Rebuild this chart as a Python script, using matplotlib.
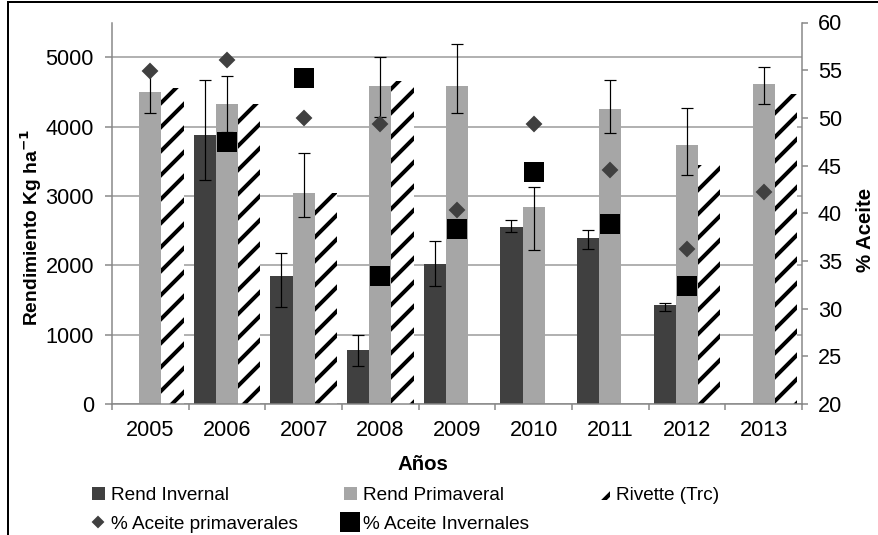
import numpy as np
import matplotlib
matplotlib.use('Agg')
import matplotlib.pyplot as plt
from matplotlib.lines import Line2D
from matplotlib.patches import Patch

plt.rcParams['font.family'] = ['Liberation Sans', 'DejaVu Sans']
plt.rcParams['hatch.linewidth'] = 2.0

nan = np.nan
years = ['2005', '2006', '2007', '2008', '2009', '2010', '2011', '2012', '2013']

# rendimiento (Kg/ha) with error bar ends
rend_inv = [nan, 3873, 1845, 780, 2017, 2545, 2387, 1427, nan]
rend_inv_lo = [nan, 3226, 1394, 550, 1700, 2482, 2233, 1341, nan]
rend_inv_hi = [nan, 4669, 2180, 1000, 2348, 2650, 2506, 1460, nan]
rend_prim = [4496, 4319, 3043, 4578, 4578, 2833, 4247, 3729, 4607]
rend_prim_lo = [4194, 3920, 2698, 4137, 4194, 2219, 3912, 3302, 4329]
rend_prim_hi = [4800, 4722, 3624, 4996, 5187, 3129, 4665, 4272, 4856]
rivette = [4560, 4319, 3043, 4650, nan, nan, nan, 3442, 4473]

# % aceite
aceite_prim = [54.9, 56.1, 50.0, 49.4, 40.3, 49.4, 44.5, 36.2, 42.2]
aceite_inv = [nan, 47.5, 54.2, 33.4, 38.3, 44.3, 38.9, 32.4, nan]

dark = '#404040'
light = '#a6a6a6'
axcol = '#868686'

W, H, DPI = 878, 535, 144
fig = plt.figure(figsize=(W / DPI, H / DPI), dpi=DPI)
ax = fig.add_axes([112 / W, 1 - 404 / H, 690 / W, 381.5 / H])

x = np.arange(len(years))
w = 0.29

inv = np.array(rend_inv)
prim = np.array(rend_prim)

ax.bar(x - w, inv, w, color=dark, linewidth=0, zorder=2)
ax.bar(x, prim, w, color=light, linewidth=0, zorder=2)
ax.bar(x + w, rivette, w, color='white', edgecolor='black', hatch='//',
       linewidth=0, zorder=2)

ax.errorbar(x - w, inv, yerr=[inv - np.array(rend_inv_lo), np.array(rend_inv_hi) - inv],
            fmt='none', ecolor='black', elinewidth=0.6, capsize=3, capthick=0.6, zorder=3)
ax.errorbar(x, prim, yerr=[prim - np.array(rend_prim_lo), np.array(rend_prim_hi) - prim],
            fmt='none', ecolor='black', elinewidth=0.6, capsize=3, capthick=0.6, zorder=3)

ax.set_xlim(-0.5, len(years) - 0.5)
ax.set_ylim(0, 5500)
ax.set_yticks(np.arange(0, 5001, 1000))
ax.yaxis.grid(True, color='#a0a0a0', linewidth=0.8)
ax.set_axisbelow(True)

ax.set_xticks(np.arange(-0.5, len(years)), minor=False)
ax.set_xticklabels([])
ax.set_xticks(x, minor=True)
ax.set_xticklabels(years, minor=True)
ax.tick_params(axis='x', which='major', direction='out', length=3, width=0.75, color=axcol)
ax.tick_params(axis='x', which='minor', length=0, pad=8, labelsize=10.8)
ax.tick_params(axis='y', direction='out', length=3.5, width=0.75, color=axcol,
               pad=5.5, labelsize=10.8)

for s in ['top', 'right']:
    ax.spines[s].set_visible(False)
for s in ['left', 'bottom']:
    ax.spines[s].set_color(axcol)
    ax.spines[s].set_linewidth(0.75)

ax.set_xlabel('Años', fontsize=10.2, fontweight='bold')
ax.xaxis.set_label_coords(0.451, -0.134)
ax.set_ylabel('Rendimiento Kg ha$^{\\mathbf{-1}}$', fontsize=9.6, fontweight='bold')
ax.yaxis.set_label_coords(-0.098, 0.462)

ax2 = ax.twinx()
ax2.plot(x, aceite_prim, ls='none', marker='D', ms=5.3, color=dark, zorder=4)
ax2.plot(x, aceite_inv, ls='none', marker='s', ms=9, color='black', zorder=4)
ax2.set_ylim(20, 60)
ax2.set_yticks(np.arange(20, 61, 5))
ax2.tick_params(axis='y', direction='out', length=3, width=0.75, color=axcol,
                pad=5, labelsize=10.8)
for s in ['top', 'left', 'bottom']:
    ax2.spines[s].set_visible(False)
ax2.spines['right'].set_color(axcol)
ax2.spines['right'].set_linewidth(0.75)
ax2.set_ylabel('% Aceite', fontsize=10.2, fontweight='bold')
ax2.yaxis.set_label_coords(1.078, 0.456)

# legend, laid out in three columns like the original
h_inv = Patch(facecolor=dark, edgecolor='none')
h_prim = Patch(facecolor=light, edgecolor='none')
h_riv = Patch(facecolor='white', edgecolor='black', hatch='//', linewidth=0)
h_dia = Line2D([], [], ls='none', marker='D', ms=3.5, color=dark)
h_sq = Line2D([], [], ls='none', marker='s', ms=9, color='black')

leg_kw = dict(loc='upper left', frameon=False, borderpad=0, borderaxespad=0,
              fontsize=9.5, handlelength=0.68, handleheight=0.68, handletextpad=0.33,
              labelspacing=0.6, bbox_transform=fig.transFigure)
leg_y = 1 - 487 / H
l1 = fig.legend([h_inv, h_dia], ['Rend Invernal', '% Aceite primaverales'],
                bbox_to_anchor=(92 / W, leg_y), **leg_kw)
l2 = fig.legend([h_prim, h_sq], ['Rend Primaveral', '% Aceite Invernales'],
                bbox_to_anchor=(344 / W, leg_y), **leg_kw)
l3 = fig.legend([h_riv], ['Rivette (Trc)'],
                bbox_to_anchor=(597 / W, leg_y), **leg_kw)

# outer frame of the original chart
fig.add_artist(Line2D([7.5 / W, 7.5 / W], [0, 1 - 2 / H], color='black', lw=1,
                      transform=fig.transFigure))
fig.add_artist(Line2D([7.5 / W, 1], [1 - 2 / H, 1 - 2 / H], color='black', lw=1,
                      transform=fig.transFigure))

fig.savefig('out.png', dpi=DPI)
